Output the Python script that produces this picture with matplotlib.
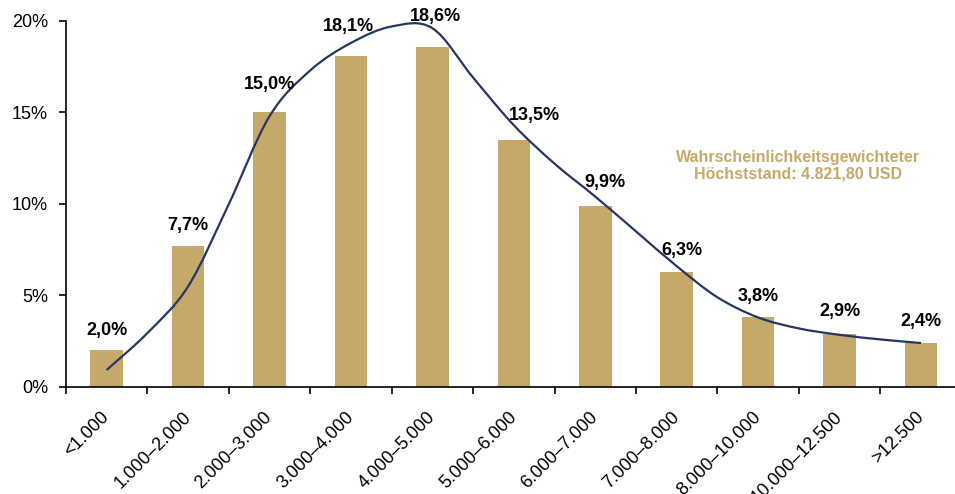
import matplotlib.pyplot as plt
from matplotlib.path import Path
from matplotlib.patches import PathPatch

plt.rcParams['font.family'] = ['Liberation Sans', 'DejaVu Sans']

# Daten
kategorien = ['<1.000', '1.000–2.000', '2.000–3.000', '3.000–4.000', '4.000–5.000',
              '5.000–6.000', '6.000–7.000', '7.000–8.000', '8.000–10.000',
              '10.000–12.500', '>12.500']
anteile = [2.0, 7.7, 15.0, 18.1, 18.6, 13.5, 9.9, 6.3, 3.8, 2.9, 2.4]
beschriftung = ['2,0%', '7,7%', '15,0%', '18,1%', '18,6%', '13,5%', '9,9%',
                '6,3%', '3,8%', '2,9%', '2,4%']

# geglättete Verteilungskurve
kurve_x = [0, 0.5, 1, 1.5, 2, 2.5, 3, 3.5, 4, 4.5, 5, 5.5, 6, 6.5, 7, 7.5,
           8, 8.5, 9, 9.5, 10]
kurve_y = [0.93, 2.95, 5.5, 10.0, 14.8, 17.3, 18.8, 19.7, 19.6, 16.9, 14.3,
           12.2, 10.4, 8.5, 6.6, 4.9, 3.8, 3.2, 2.85, 2.6, 2.4]

gold = '#C4A96B'
navy = '#26365F'

fig = plt.figure(figsize=(9.55, 4.94), dpi=100)
ax = fig.add_axes([0.0691, 0.2166, 0.938, 0.741])

x = list(range(len(kategorien)))
ax.bar(x, anteile, width=0.4, color=gold, zorder=2)

# kubische Hermite-Kurve als Bezier-Pfad (glatt wie die Excel-Linie)
n = len(kurve_x)
m = []
for i in range(n):
    a = max(i - 1, 0)
    b = min(i + 1, n - 1)
    m.append((kurve_y[b] - kurve_y[a]) / (kurve_x[b] - kurve_x[a]))
verts = [(kurve_x[0], kurve_y[0])]
codes = [Path.MOVETO]
for i in range(n - 1):
    h = kurve_x[i + 1] - kurve_x[i]
    verts += [(kurve_x[i] + h / 3, kurve_y[i] + m[i] * h / 3),
              (kurve_x[i + 1] - h / 3, kurve_y[i + 1] - m[i + 1] * h / 3),
              (kurve_x[i + 1], kurve_y[i + 1])]
    codes += [Path.CURVE4] * 3
ax.add_patch(PathPatch(Path(verts, codes), fill=False, edgecolor=navy, lw=1.6, zorder=3))

# Wertbeschriftungen
dy = [20, 21, 28, 29, 30, 24, 23, 21, 21, 22, 22]
dx = [0, 0, 0, -3, 3, 21, 10, 5, 0, 0, 0]
for i, (v, t) in enumerate(zip(anteile, beschriftung)):
    ax.annotate(t, (i, v), xytext=(dx[i], dy[i]), textcoords='offset pixels',
                ha='center', va='center', fontsize=13, fontweight='bold', zorder=4)

ax.text(8.49, 12.1, 'Wahrscheinlichkeitsgewichteter\nHöchststand: 4.821,80 USD',
        ha='center', va='center', color=gold, fontsize=11.5, fontweight='bold',
        linespacing=1.1)

ax.set_xlim(-0.5, 10.5)
ax.set_ylim(0, 20)
ax.set_yticks([0, 5, 10, 15, 20])
ax.set_yticklabels(['0%', '5%', '10%', '15%', '20%'])
ax.tick_params(axis='y', labelsize=13, length=5, width=1.2, pad=8)

# Ticks zwischen den Kategorien, Beschriftung in der Mitte
ax.set_xticks([i + 0.5 for i in range(-1, 11)])
ax.set_xticklabels([])
ax.tick_params(axis='x', length=5, width=1.2)
ax.set_xticks(x, minor=True)
ax.set_xticklabels(kategorien, minor=True, rotation=45, ha='right', va='center',
                   rotation_mode='anchor', fontsize=13)
ax.tick_params(axis='x', which='minor', length=0, pad=20)

for s in ['top', 'right']:
    ax.spines[s].set_visible(False)
ax.spines['left'].set_linewidth(1.2)
ax.spines['bottom'].set_linewidth(1.2)

fig.savefig('out.png', dpi=100)
